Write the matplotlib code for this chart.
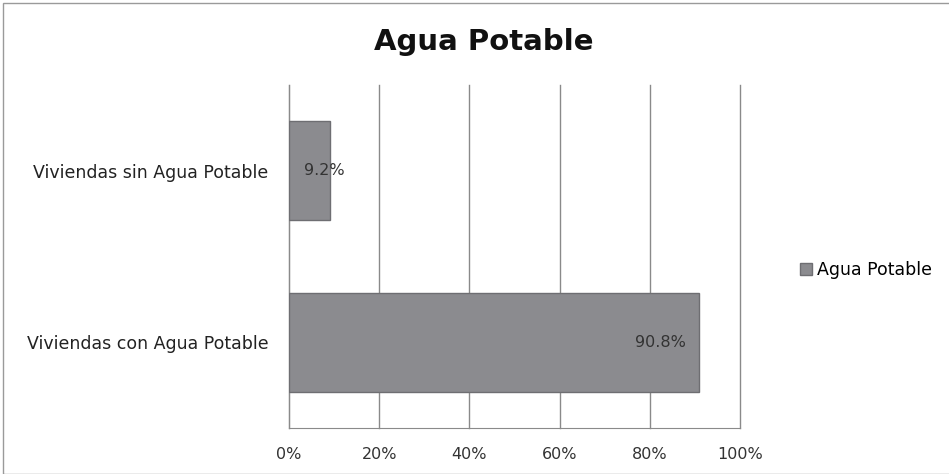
import numpy as np
import matplotlib.pyplot as plt
from matplotlib.patches import Rectangle

# datos
categorias = ['Viviendas con Agua Potable', 'Viviendas sin Agua Potable']
valores = [0.908, 0.092]
etiquetas = ['90.8%', '9.2%']
ticks = [0, 0.2, 0.4, 0.6, 0.8, 1.0]
tick_labels = ['0%', '20%', '40%', '60%', '80%', '100%']

fig = plt.figure(figsize=(9.49, 4.74), dpi=100)
ax = fig.add_axes([289/949, 1 - 428/474, 451/949, 343/474])

y = np.arange(len(categorias))
bars = ax.barh(y, valores, height=0.58, color='#8b8b8f', edgecolor='#6e6e72',
               linewidth=1.0, label='Agua Potable', zorder=3)

for b, txt in zip(bars, etiquetas):
    w = b.get_width()
    yc = b.get_y() + b.get_height() / 2
    if w > 0.5:
        ax.text(w - 0.028, yc, txt, ha='right', va='center', fontsize=11.5,
                color='#333333', zorder=4)
    else:
        # etiqueta mas ancha que la barra, sobresale
        ax.text(w + 0.032, yc, txt, ha='right', va='center', fontsize=11.5,
                color='#333333', zorder=4)

ax.set_xlim(0, 1)
ax.set_ylim(-0.5, 1.5)
ax.set_xticks(ticks)
ax.set_xticklabels(tick_labels, fontsize=11.5, color='#333333')
ax.set_yticks(y)
ax.set_yticklabels(categorias, fontsize=12.5, color='#222222')
ax.tick_params(length=0, pad=14)
ax.tick_params(axis='y', pad=15)
for t in ticks:
    ax.axvline(t, color='#8a8a8a', linewidth=1.0, clip_on=False, zorder=1)
for s in ['top', 'right']:
    ax.spines[s].set_visible(False)
for s in ['left', 'bottom']:
    ax.spines[s].set_color('#8a8a8a')

fig.text(484/949, 1 - 42/474, 'Agua Potable', ha='center', va='center',
         fontsize=21, fontweight='bold', color='#111111')

leg = fig.legend(handles=[bars], labels=['Agua Potable'], loc='center left',
                 bbox_to_anchor=(784/949, 1 - 270/474), frameon=False,
                 fontsize=12.5, handlelength=0.7, handleheight=0.7, handletextpad=0.3)

fig.patches.append(Rectangle((3/949, 0), 1, 1 - 3/474, transform=fig.transFigure,
                             fill=False, edgecolor='#9a9a9a', linewidth=1.0))

fig.savefig('out.png', dpi=100)
